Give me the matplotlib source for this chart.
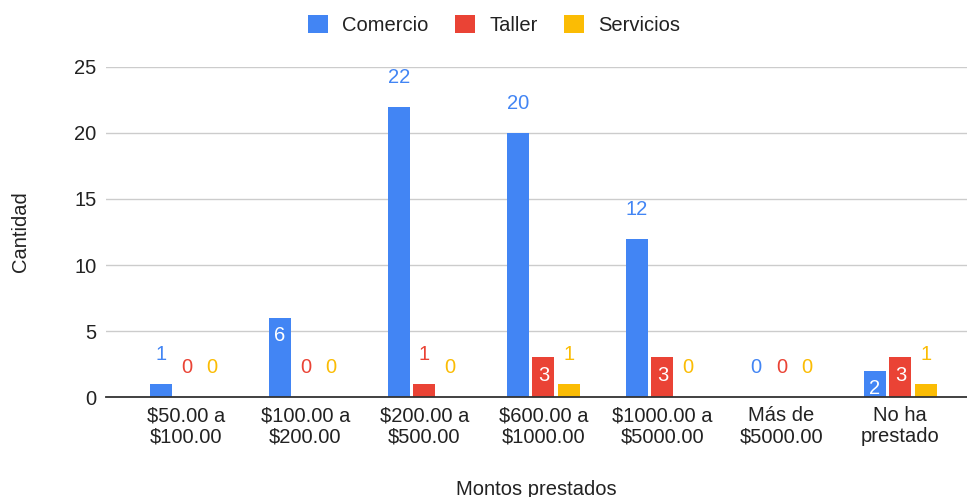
import numpy as np
import matplotlib.pyplot as plt
from matplotlib.patches import Patch

plt.rcParams['font.family'] = ['Liberation Sans', 'DejaVu Sans']

# data
categories = ["$50.00 a\n$100.00", "$100.00 a\n$200.00", "$200.00 a\n$500.00",
              "$600.00 a\n$1000.00", "$1000.00 a\n$5000.00", "Más de\n$5000.00",
              "No ha\nprestado"]
series_names = ["Comercio", "Taller", "Servicios"]
comercio = [1, 6, 22, 20, 12, 0, 2]
taller = [0, 0, 1, 3, 3, 0, 3]
servicios = [0, 0, 0, 1, 0, 0, 1]
# which value labels sit inside the bar (white) rather than above it
inside_comercio = [False, True, False, False, False, False, True]
inside_taller = [False, False, False, True, True, False, True]
inside_servicios = [False] * 7

colors = ["#4285F4", "#EA4335", "#FBBC04"]
text_col = "#222222"
fs = 14.5

fig = plt.figure(figsize=(9.67, 4.97), dpi=100)
ax = fig.add_axes([0.1096, 0.2012, 0.8904, 0.664])

x = np.arange(len(categories))
pitch = 0.214
width = 0.185
all_series = [comercio, taller, servicios]
all_inside = [inside_comercio, inside_taller, inside_servicios]

for i, (vals, ins, col) in enumerate(zip(all_series, all_inside, colors)):
    xs = x + (i - 1) * pitch
    ax.bar(xs, vals, width=width, color=col, zorder=3)
    for xx, v, inside in zip(xs, vals, ins):
        if inside:
            ax.annotate(str(v), (xx, v), xytext=(0, -6), textcoords="offset points",
                        ha="center", va="top", color="white", fontsize=fs, zorder=4)
        else:
            ax.annotate(str(v), (xx, v), xytext=(0, 17), textcoords="offset points",
                        ha="center", va="baseline", color=col, fontsize=fs,
                        annotation_clip=False, zorder=4)

ax.set_xlim(-0.676, 6.56)
ax.set_ylim(0, 25)
ax.set_yticks([0, 5, 10, 15, 20, 25])
ax.set_xticks(x)
ax.set_xticklabels(categories, fontsize=fs, color=text_col, linespacing=1.15)
ax.tick_params(axis="x", length=0, pad=6.5)
ax.tick_params(axis="y", length=0, pad=7, labelsize=fs, labelcolor=text_col)
ax.grid(axis="y", color="#cccccc", linewidth=1, zorder=0)
for s in ["top", "right", "left"]:
    ax.spines[s].set_visible(False)
ax.spines["bottom"].set_color("#333333")
ax.spines["bottom"].set_linewidth(1.3)
ax.spines["bottom"].set_zorder(5)

ax.set_xlabel("Montos prestados", fontsize=fs, color=text_col, labelpad=24)
ax.set_ylabel("Cantidad", fontsize=fs, color=text_col)
ax.yaxis.set_label_coords(-0.088, 0.5)

handles = [Patch(facecolor=c, edgecolor="none") for c in colors]
fig.legend(handles, series_names, loc="center", bbox_to_anchor=(0.511, 0.949),
           ncol=3, frameon=False, fontsize=fs, handlelength=1.0, handleheight=1.0,
           handletextpad=0.7, columnspacing=1.3, labelcolor=text_col)

fig.savefig("out.png", dpi=100)
